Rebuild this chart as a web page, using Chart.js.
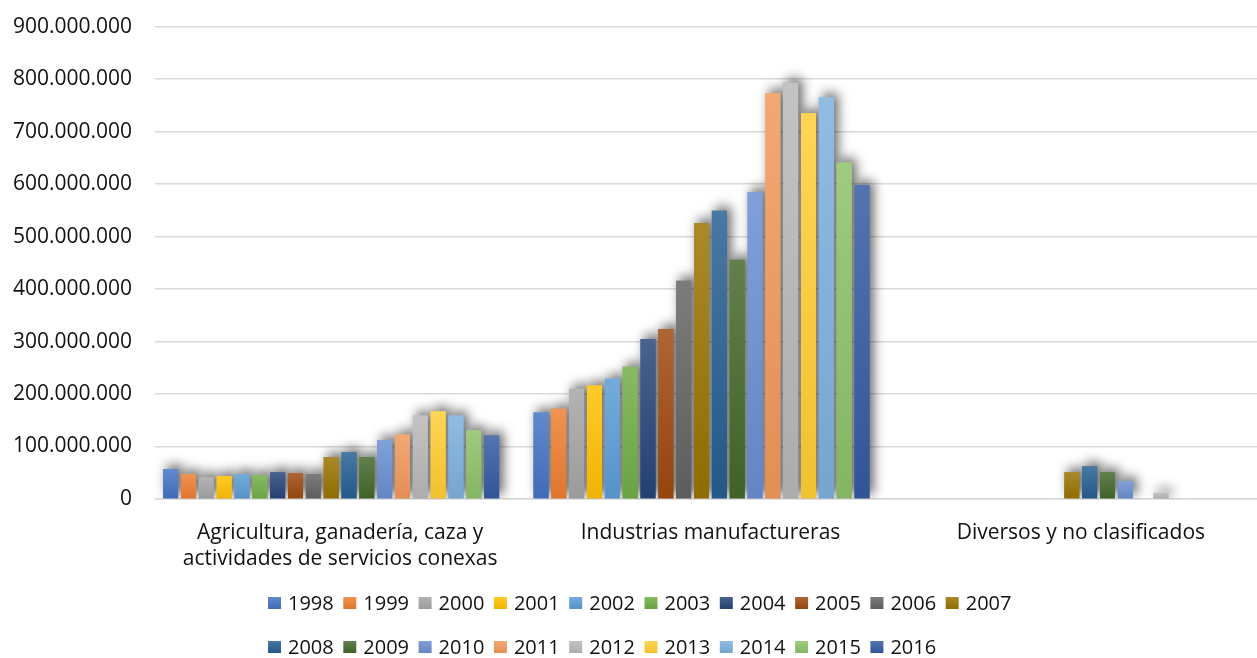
<!DOCTYPE html>
<html>
<head>
<meta charset="utf-8">
<script src="https://cdn.jsdelivr.net/npm/chart.js@4.4.1/dist/chart.umd.min.js"></script>
<style>
html, body { margin: 0; padding: 0; background: #ffffff; }
#wrap { width: 1257px; height: 658px; position: relative; }
</style>
</head>
<body>
<div id="wrap"><canvas id="c" width="1257" height="658"></canvas></div>
<script>
// ---- DATA ----
const categories = [
  ["Agricultura, ganadería, caza y", "actividades de servicios conexas"],
  "Industrias manufactureras",
  "Diversos y no clasificados"
];
const years = ["1998","1999","2000","2001","2002","2003","2004","2005","2006","2007",
               "2008","2009","2010","2011","2012","2013","2014","2015","2016"];
const agricultura = [57e6, 47.5e6, 42e6, 44e6, 47.5e6, 45.5e6, 51e6, 49e6, 47.5e6, 80e6,
                     89e6, 80e6, 112e6, 123e6, 159e6, 167e6, 159e6, 131e6, 121e6];
const industrias  = [165e6, 172e6, 210e6, 216e6, 229e6, 252e6, 305e6, 324e6, 416e6, 526e6,
                     549e6, 456e6, 585e6, 773e6, 793e6, 735e6, 765e6, 641e6, 598e6];
const diversos    = [0, 0, 0, 0, 0, 0, 0, 0, 0, 51e6,
                     62.5e6, 51e6, 34e6, 0, 12e6, 0, 0, 0, 0];
const yTicks = { min: 0, max: 900e6, step: 100e6 };

// ---- STYLE ----
const colors = ["#4472C4","#ED7D31","#A5A5A5","#FFC000","#5B9BD5","#70AD47","#264478","#9E480E","#636363","#997300",
                "#255E91","#43682B","#698ED0","#F1975A","#B7B7B7","#FFCD33","#7CAFDD","#8CC168","#335AA1"];
const FONT = "'Open Sans', Lato, sans-serif";
const TEXT = "#111111";

function hexToRgb(h) { const n = parseInt(h.slice(1), 16); return [(n >> 16) & 255, (n >> 8) & 255, n & 255]; }
function mix(h, t, a) { const c = hexToRgb(h); return "rgb(" + c.map(v => Math.round(v + (t - v) * a)).join(",") + ")"; }
function topColor(h) { return mix(h, 255, 0.16); }
function botColor(h) { return mix(h, 0, 0.06); }

function fmt(v) { return String(Math.round(v)).replace(/\B(?=(\d{3})+(?!\d))/g, "."); }

const datasets = years.map((y, i) => ({
  label: y,
  data: [agricultura[i], industrias[i], diversos[i]],
  backgroundColor: (ctx) => {
    const base = colors[i];
    const chart = ctx.chart, ys = chart.scales && chart.scales.y;
    if (!ys || ctx.type !== 'data' || !ctx.raw) return base;
    const top = ys.getPixelForValue(ctx.raw), bot = ys.getPixelForValue(0);
    if (!isFinite(top) || !isFinite(bot) || bot - top < 1) return base;
    const g = chart.ctx.createLinearGradient(0, top, 0, bot);
    g.addColorStop(0, topColor(base));
    g.addColorStop(1, botColor(base));
    return g;
  },
  borderWidth: 0,
  categoryPercentage: 0.915,
  barPercentage: 0.84
}));

const shadowPlugin = {
  id: 'barShadow',
  beforeDatasetsDraw(chart) {
    const ctx = chart.ctx, a = chart.chartArea;
    ctx.save();
    // Excel plot area: gridlines start a little right of the category band start
    ctx.fillStyle = "#ffffff";
    ctx.fillRect(a.left - 1, a.top - 3, 10, a.bottom - a.top + 6);
    ctx.beginPath();
    ctx.rect(a.left, a.top - 20, a.right - a.left, a.bottom - a.top + 20);
    ctx.clip();
    ctx.shadowColor = "rgba(0,0,0,0.62)";
    ctx.shadowBlur = 12;
    ctx.shadowOffsetX = 4;
    ctx.shadowOffsetY = -4;
    chart.getSortedVisibleDatasetMetas().forEach(meta => {
      meta.data.forEach(el => { if (Math.abs(el.base - el.y) >= 1) el.draw(ctx); });
    });
    ctx.restore();
  }
};

const legendStyle = { left: 268, rows: [603, 647], step: 75.3, perRow: 10, boxW: 13, boxH: 12, gap: 7, size: 20 };
const legendPlugin = {
  id: 'excelLegend',
  afterDraw(chart) {
    const ctx = chart.ctx, s = legendStyle;
    ctx.save();
    ctx.font = s.size + "px " + FONT;
    ctx.textBaseline = "middle";
    ctx.textAlign = "left";
    chart.data.datasets.forEach((ds, i) => {
      const row = Math.floor(i / s.perRow), col = i % s.perRow;
      const x = s.left + col * s.step, y = s.rows[row];
      const g = ctx.createLinearGradient(0, y - s.boxH / 2, 0, y + s.boxH / 2);
      g.addColorStop(0, topColor(colors[i]));
      g.addColorStop(1, botColor(colors[i]));
      ctx.fillStyle = g;
      ctx.fillRect(x, y - s.boxH / 2, s.boxW, s.boxH);
      ctx.fillStyle = TEXT;
      ctx.fillText(ds.label, x + s.boxW + s.gap, y + 1);
    });
    ctx.restore();
  }
};

new Chart(document.getElementById("c"), {
  type: "bar",
  data: { labels: categories, datasets },
  options: {
    responsive: false,
    animation: false,
    layout: { padding: { left: 12, top: 25, right: 0, bottom: 0 } },
    plugins: { legend: { display: false }, tooltip: { enabled: false } },
    scales: {
      x: {
        grid: { display: false, drawTicks: false },
        border: { display: true, color: "#d9d9d9", width: 1.5 },
        ticks: {
          color: TEXT, padding: 21, labelOffset: 9, maxRotation: 0, autoSkip: false,
          font: { family: FONT, size: 21, lineHeight: 1.25 }
        },
        afterFit(scale) { scale.height = 159; }
      },
      y: {
        min: yTicks.min, max: yTicks.max,
        grid: { color: "#d9d9d9", lineWidth: 1.5, drawTicks: false },
        border: { display: false },
        ticks: {
          stepSize: yTicks.step, color: TEXT, padding: 14,
          font: { family: FONT, size: 21 },
          callback: (v) => fmt(v)
        },
        afterFit(scale) { scale.width = 134; }
      }
    }
  },
  plugins: [shadowPlugin, legendPlugin]
});
</script>
</body>
</html>
